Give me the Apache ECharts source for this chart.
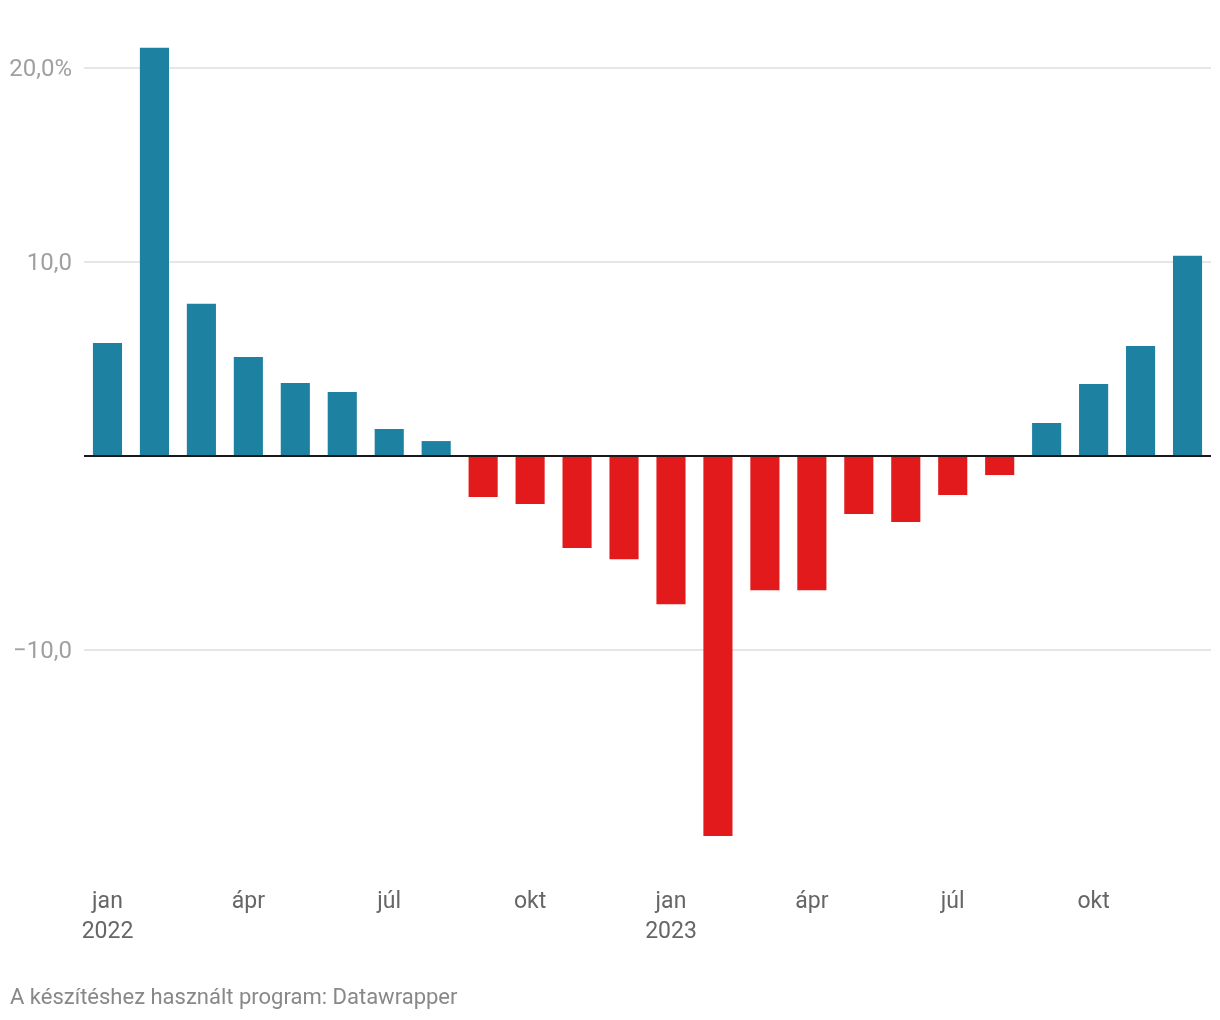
<!DOCTYPE html>
<html>
<head>
<meta charset="utf-8">
<script src="https://cdn.jsdelivr.net/npm/echarts@6/dist/echarts.min.js"></script>
<style>
html,body{margin:0;padding:0;background:#fff;}
#chart{width:1220px;height:1020px;}
</style>
</head>
<body>
<div id="chart"></div>
<script>
const categories = ['jan\n2022','feb','márc','ápr','máj','jún','júl','aug','szept','okt','nov','dec',
                    'jan\n2023','feb','márc','ápr','máj','jún','júl','aug','szept','okt','nov','dec'];
const values = [5.82, 21.03, 7.84, 5.10, 3.76, 3.30, 1.39, 0.77, -2.11, -2.47, -4.74, -5.31,
                -7.63, -19.57, -6.91, -6.91, -2.99, -3.40, -2.01, -0.98, 1.70, 3.71, 5.67, 10.31];
const gridValues = [20, 10, -10];
const yLabels = {'20': '20,0%', '10': '10,0', '-10': '\u221210,0'};
const footer = 'A készítéshez használt program: Datawrapper';

const BLUE = '#1d81a2', RED = '#e31a1c';
const FONT = 'Roboto';

const chart = echarts.init(document.getElementById('chart'), null, {renderer: 'canvas'});
chart.setOption({
  animation: false,
  backgroundColor: '#fff',
  textStyle: {fontFamily: FONT},
  title: {
    text: footer, left: 5, top: 982,
    textStyle: {fontFamily: FONT, fontSize: 22, fontWeight: 'normal', color: '#888'}
  },
  grid: {left: 84, right: 9, top: 28.8, bottom: 175.6, containLabel: false},
  xAxis: {
    type: 'category', data: categories,
    axisLine: {show: false}, axisTick: {show: false},
    axisLabel: {interval: 2, margin: 43, fontSize: 23, lineHeight: 30, color: '#666', fontFamily: FONT}
  },
  yAxis: {
    type: 'value', min: -20, max: 22, interval: 10,
    splitLine: {show: false}, axisLine: {show: false}, axisTick: {show: false},
    axisLabel: {
      margin: 12, fontSize: 24, color: '#a0a0a0', fontFamily: FONT,
      formatter: v => yLabels[String(v)] ? '{t|' + yLabels[String(v)] + '}' : '',
      rich: {t: {fontSize: 24, color: '#a0a0a0', fontFamily: FONT, padding: [4, 0, 0, 0]}}
    }
  },
  series: [
    {
      type: 'bar', data: values, barWidth: '62%', z: 2,
      itemStyle: {color: p => p.value >= 0 ? BLUE : RED},
      markLine: {
        silent: true, symbol: 'none', z: 1, label: {show: false},
        lineStyle: {color: '#e6e6e6', width: 2, type: 'solid'},
        data: gridValues.map(v => ({yAxis: v}))
      }
    },
    {
      type: 'line', data: [], symbol: 'none',
      markLine: {
        silent: true, symbol: 'none', z: 10, label: {show: false},
        lineStyle: {color: '#1a1a1a', width: 2, type: 'solid'},
        data: [{yAxis: 0}]
      }
    }
  ]
});
</script>
</body>
</html>
